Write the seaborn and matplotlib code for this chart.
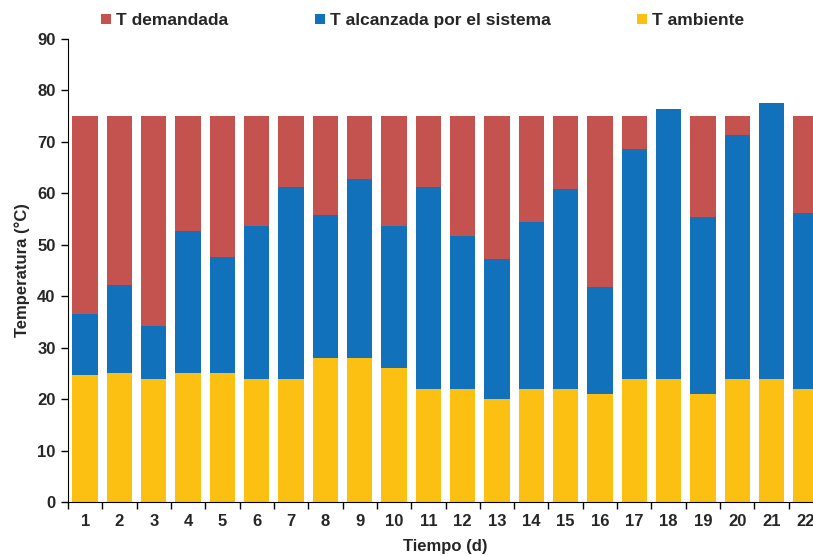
import seaborn as sns
import matplotlib.pyplot as plt
import pandas as pd

# days and temperatures
dias = [str(d) for d in range(1, 23)]
t_demandada = [75] * 22
t_alcanzada = [36.6, 42.2, 34.2, 52.7, 47.6, 53.7, 61.2, 55.8, 62.7, 53.7, 61.2,
               51.7, 47.3, 54.4, 60.9, 41.7, 68.7, 76.3, 55.4, 71.4, 77.5, 56.1]
t_ambiente = [24.7, 25, 24, 25, 25, 24, 24, 28, 28, 26, 22,
              22, 20, 22, 22, 21, 24, 24, 21, 24, 24, 22]

df = pd.DataFrame({"dia": dias, "dem": t_demandada, "alc": t_alcanzada, "amb": t_ambiente})

sns.set_style("white")
plt.rcParams['font.family'] = ['Liberation Sans', 'DejaVu Sans']
plt.rcParams['font.weight'] = 'bold'

fig = plt.figure(figsize=(8.13, 5.56), dpi=100)
ax = fig.add_axes([68 / 813, 54 / 556, 755 / 813, 463 / 556])

rojo, azul, amarillo = "#C4524E", "#1171BA", "#FBC012"
sns.barplot(x="dia", y="dem", data=df, color=rojo, width=0.74, linewidth=0,
            saturation=1, ax=ax, label="T demandada")
sns.barplot(x="dia", y="alc", data=df, color=azul, width=0.74, linewidth=0,
            saturation=1, ax=ax, label="T alcanzada por el sistema")
sns.barplot(x="dia", y="amb", data=df, color=amarillo, width=0.74, linewidth=0,
            saturation=1, ax=ax, label="T ambiente")

ax.set_xlim(-0.5, 21.5)
ax.set_ylim(0, 90)
ax.set_yticks(range(0, 91, 10))
ax.set_xticks([i - 0.5 for i in range(23)], minor=True)
ax.tick_params(axis="x", which="major", length=0, pad=9, labelsize=12)
ax.tick_params(axis="x", which="minor", length=5, width=1, direction="out", color="black", bottom=True)
ax.tick_params(axis="y", length=5, width=1, direction="out", color="black", left=True, labelsize=12, pad=4)
for lab in ax.get_xticklabels() + ax.get_yticklabels():
    lab.set_fontweight("bold")

sns.despine(ax=ax)
ax.spines["left"].set_color("black")
ax.spines["bottom"].set_color("black")

ax.set_xlabel("Tiempo (d)", fontsize=12, fontweight="bold", labelpad=7)
ax.set_ylabel("Temperatura (°C)", fontsize=12, fontweight="bold", labelpad=5)

h, l = ax.get_legend_handles_labels()
if ax.legend_:
    ax.legend_.remove()
fig.legend(h, l, loc="center", bbox_to_anchor=(0.52, 0.963), ncol=3, frameon=False,
           handlelength=0.55, handleheight=0.55, handletextpad=0.3,
           columnspacing=5.0, prop={"weight": "bold", "size": 12.5})

fig.savefig("out.png", dpi=100)
